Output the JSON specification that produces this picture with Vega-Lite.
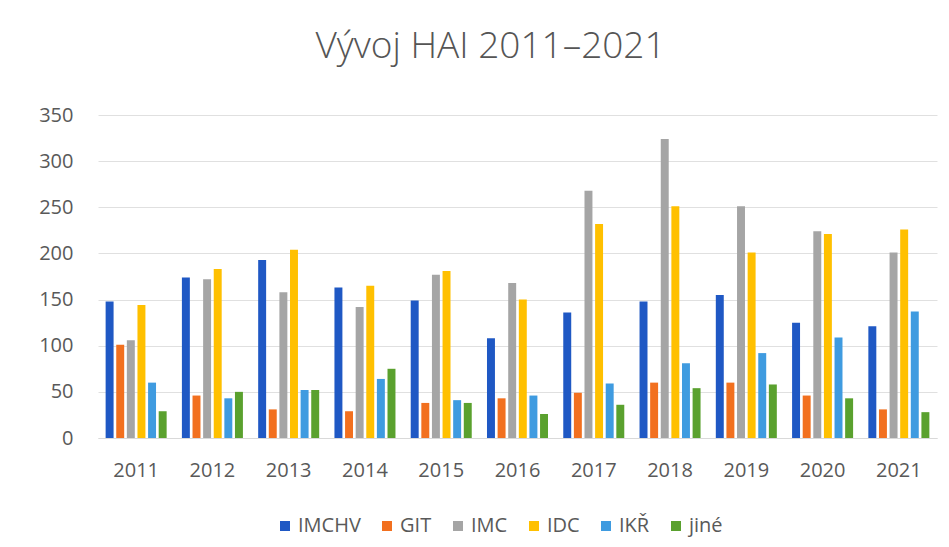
{
  "$schema": "https://vega.github.io/schema/vega-lite/v6.json",
  "autosize": "none",
  "width": 839,
  "height": 323,
  "padding": {"left": 98, "top": 115, "right": 12, "bottom": 109},
  "background": "white",
  "config": {"view": {"stroke": null}, "font": "Open Sans"},
  "title": {"text": "Vývoj HAI 2011–2021", "fontSize": 37, "fontWeight": 300, "font": "Open Sans", "color": "#555555", "offset": 39, "dx": -27},
  "data": {"values": [
    {"rok": "2011", "typ": "IMCHV", "pocet": 148}, {"rok": "2011", "typ": "GIT", "pocet": 101}, {"rok": "2011", "typ": "IMC", "pocet": 106}, {"rok": "2011", "typ": "IDC", "pocet": 144}, {"rok": "2011", "typ": "IKŘ", "pocet": 60}, {"rok": "2011", "typ": "jiné", "pocet": 29},
    {"rok": "2012", "typ": "IMCHV", "pocet": 174}, {"rok": "2012", "typ": "GIT", "pocet": 46}, {"rok": "2012", "typ": "IMC", "pocet": 172}, {"rok": "2012", "typ": "IDC", "pocet": 183}, {"rok": "2012", "typ": "IKŘ", "pocet": 43}, {"rok": "2012", "typ": "jiné", "pocet": 50},
    {"rok": "2013", "typ": "IMCHV", "pocet": 193}, {"rok": "2013", "typ": "GIT", "pocet": 31}, {"rok": "2013", "typ": "IMC", "pocet": 158}, {"rok": "2013", "typ": "IDC", "pocet": 204}, {"rok": "2013", "typ": "IKŘ", "pocet": 52}, {"rok": "2013", "typ": "jiné", "pocet": 52},
    {"rok": "2014", "typ": "IMCHV", "pocet": 163}, {"rok": "2014", "typ": "GIT", "pocet": 29}, {"rok": "2014", "typ": "IMC", "pocet": 142}, {"rok": "2014", "typ": "IDC", "pocet": 165}, {"rok": "2014", "typ": "IKŘ", "pocet": 64}, {"rok": "2014", "typ": "jiné", "pocet": 75},
    {"rok": "2015", "typ": "IMCHV", "pocet": 149}, {"rok": "2015", "typ": "GIT", "pocet": 38}, {"rok": "2015", "typ": "IMC", "pocet": 177}, {"rok": "2015", "typ": "IDC", "pocet": 181}, {"rok": "2015", "typ": "IKŘ", "pocet": 41}, {"rok": "2015", "typ": "jiné", "pocet": 38},
    {"rok": "2016", "typ": "IMCHV", "pocet": 108}, {"rok": "2016", "typ": "GIT", "pocet": 43}, {"rok": "2016", "typ": "IMC", "pocet": 168}, {"rok": "2016", "typ": "IDC", "pocet": 150}, {"rok": "2016", "typ": "IKŘ", "pocet": 46}, {"rok": "2016", "typ": "jiné", "pocet": 26},
    {"rok": "2017", "typ": "IMCHV", "pocet": 136}, {"rok": "2017", "typ": "GIT", "pocet": 49}, {"rok": "2017", "typ": "IMC", "pocet": 268}, {"rok": "2017", "typ": "IDC", "pocet": 232}, {"rok": "2017", "typ": "IKŘ", "pocet": 59}, {"rok": "2017", "typ": "jiné", "pocet": 36},
    {"rok": "2018", "typ": "IMCHV", "pocet": 148}, {"rok": "2018", "typ": "GIT", "pocet": 60}, {"rok": "2018", "typ": "IMC", "pocet": 324}, {"rok": "2018", "typ": "IDC", "pocet": 251}, {"rok": "2018", "typ": "IKŘ", "pocet": 81}, {"rok": "2018", "typ": "jiné", "pocet": 54},
    {"rok": "2019", "typ": "IMCHV", "pocet": 155}, {"rok": "2019", "typ": "GIT", "pocet": 60}, {"rok": "2019", "typ": "IMC", "pocet": 251}, {"rok": "2019", "typ": "IDC", "pocet": 201}, {"rok": "2019", "typ": "IKŘ", "pocet": 92}, {"rok": "2019", "typ": "jiné", "pocet": 58},
    {"rok": "2020", "typ": "IMCHV", "pocet": 125}, {"rok": "2020", "typ": "GIT", "pocet": 46}, {"rok": "2020", "typ": "IMC", "pocet": 224}, {"rok": "2020", "typ": "IDC", "pocet": 221}, {"rok": "2020", "typ": "IKŘ", "pocet": 109}, {"rok": "2020", "typ": "jiné", "pocet": 43},
    {"rok": "2021", "typ": "IMCHV", "pocet": 121}, {"rok": "2021", "typ": "GIT", "pocet": 31}, {"rok": "2021", "typ": "IMC", "pocet": 201}, {"rok": "2021", "typ": "IDC", "pocet": 226}, {"rok": "2021", "typ": "IKŘ", "pocet": 137}, {"rok": "2021", "typ": "jiné", "pocet": 28}
  ]},
  "mark": {"type": "bar"},
  "encoding": {
    "x": {"field": "rok", "type": "nominal", "title": null,
      "scale": {"paddingInner": 0.2, "paddingOuter": 0.1},
      "axis": {"labelAngle": 0, "labelFontSize": 20, "labelColor": "#595959", "labelPadding": 22, "ticks": false, "domainColor": "#d9d9d9", "labelFont": "Open Sans"}},
    "xOffset": {"field": "typ", "type": "nominal", "sort": ["IMCHV", "GIT", "IMC", "IDC", "IKŘ", "jiné"], "scale": {"paddingInner": 0.25}},
    "y": {"field": "pocet", "type": "quantitative", "title": null,
      "scale": {"domain": [0, 350]},
      "axis": {"values": [0, 50, 100, 150, 200, 250, 300, 350], "labelFontSize": 20, "labelColor": "#595959", "labelPadding": 25, "ticks": false, "domain": false, "gridColor": "#e0e0e0", "labelFont": "Open Sans"}},
    "color": {"field": "typ", "type": "nominal", "title": null,
      "scale": {"domain": ["IMCHV", "GIT", "IMC", "IDC", "IKŘ", "jiné"], "range": ["#1f58c4", "#f2701f", "#a5a5a5", "#ffc000", "#3f9be0", "#5aa12e"]},
      "legend": {"orient": "none", "legendX": 177, "legendY": 401, "direction": "horizontal", "symbolType": "square", "symbolSize": 100, "symbolStrokeWidth": 0, "labelFontSize": 20, "labelColor": "#595959", "labelFont": "Open Sans", "labelOffset": 3, "columnPadding": 16}}
  }
}
